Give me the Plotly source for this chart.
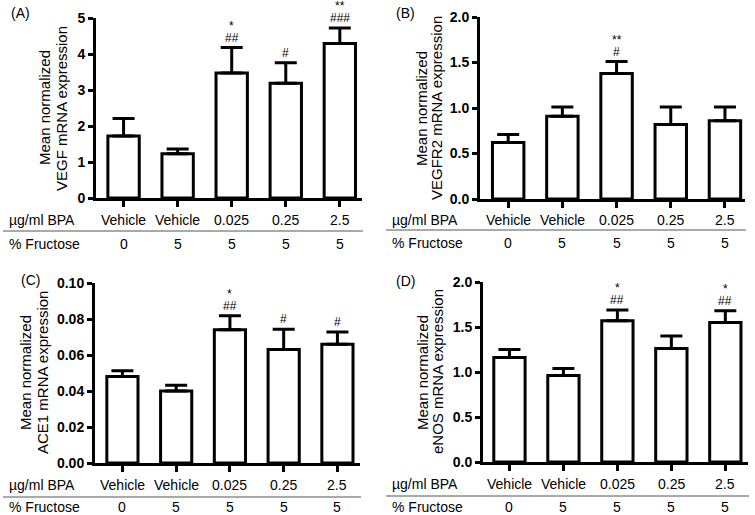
import plotly.graph_objects as go

bpa_labels = ["Vehicle", "Vehicle", "0.025", "0.25", "2.5"]
fructose_labels = ["0", "5", "5", "5", "5"]

vegf_mean = [1.72, 1.23, 3.47, 3.19, 4.29]
vegf_err = [0.49, 0.13, 0.71, 0.57, 0.43]
vegf_sig = [[], [], ["##", "*"], ["#"], ["###", "**"]]

vegfr2_mean = [0.62, 0.91, 1.38, 0.82, 0.86]
vegfr2_err = [0.09, 0.10, 0.13, 0.19, 0.15]
vegfr2_sig = [[], [], ["#", "**"], [], []]

ace1_mean = [0.048, 0.040, 0.074, 0.063, 0.066]
ace1_err = [0.0033, 0.0032, 0.0078, 0.0113, 0.0068]
ace1_sig = [[], [], ["##", "*"], ["#"], ["#"]]

enos_mean = [1.16, 0.96, 1.57, 1.26, 1.55]
enos_err = [0.09, 0.08, 0.12, 0.14, 0.13]
enos_sig = [[], [], ["##", "*"], [], ["##", "*"]]

FONT = "Liberation Sans, Arial, sans-serif"
W, H = 755, 515


def px(x):
    return x / W


def py(y):
    return 1 - y / H


# pixel layout of each panel (as measured in the reference picture)
panels = [
    dict(mean=vegf_mean, err=vegf_err, sig=vegf_sig, letter="(A)", gene="VEGF",
         l=96, r=362, t=18, b=198, x0=-0.51, x1=4.41, ymax=5, dtick=1, fmt="d",
         title_x=(45, 62), letter_xy=(20, 13), row_left=7, row_y=(220, 231, 244)),
    dict(mean=vegfr2_mean, err=vegfr2_err, sig=vegfr2_sig, letter="(B)", gene="VEGFR2",
         l=480, r=745, t=17, b=199, x0=-0.52, x1=4.37, ymax=2.0, dtick=0.5, fmt=".1f",
         title_x=(422, 437), letter_xy=(405, 13), row_left=390, row_y=(220, 230, 243)),
    dict(mean=ace1_mean, err=ace1_err, sig=ace1_sig, letter="(C)", gene="ACE1",
         l=95, r=360, t=283, b=463, x0=-0.51, x1=4.42, ymax=0.10, dtick=0.02, fmt=".2f",
         title_x=(25, 42), letter_xy=(31, 280), row_left=7, row_y=(485, 497, 507)),
    dict(mean=enos_mean, err=enos_err, sig=enos_sig, letter="(D)", gene="eNOS",
         l=483, r=748, t=282, b=462, x0=-0.49, x1=4.42, ymax=2.0, dtick=0.5, fmt=".1f",
         title_x=(422, 437), letter_xy=(405, 281), row_left=390, row_y=(484, 496, 507)),
]

fig = go.Figure()
annotations = []
shapes = []
xs = list(range(5))
txt_font = dict(family=FONT, size=14, color="black")

for i, p in enumerate(panels):
    n = "" if i == 0 else str(i + 1)
    fig.add_trace(go.Bar(
        x=xs, y=p["mean"], width=0.58,
        marker=dict(color="white", line=dict(color="black", width=3)),
        error_y=dict(type="data", symmetric=False, array=p["err"],
                     arrayminus=[0] * 5, color="black", thickness=3, width=11),
        xaxis="x" + n, yaxis="y" + n, showlegend=False,
    ))
    fig.update_layout(**{
        "xaxis" + n: dict(domain=[px(p["l"]), px(p["r"])], range=[p["x0"], p["x1"]],
                          anchor="y" + n, tickvals=xs, showticklabels=False,
                          ticks="outside", ticklen=6, tickwidth=2.5, tickcolor="black",
                          showline=True, linecolor="black", linewidth=3,
                          showgrid=False, zeroline=False, automargin=False),
        "yaxis" + n: dict(domain=[py(p["b"]), py(p["t"])], range=[0, p["ymax"]],
                          anchor="x" + n, dtick=p["dtick"], tickformat=p["fmt"],
                          ticks="outside", ticklen=5, tickwidth=2.5, tickcolor="black",
                          showline=True, linecolor="black", linewidth=3,
                          showgrid=False, zeroline=False, automargin=False,
                          tickfont=dict(family=FONT, size=14, color="black", weight="bold")),
    })
    ymid = py((p["t"] + p["b"]) / 2)
    for txt, tx in zip(["Mean normalized", p["gene"] + " mRNA expression"], p["title_x"]):
        annotations.append(dict(text=txt, x=px(tx), y=ymid, xref="paper", yref="paper",
                                xanchor="center", yanchor="middle",
                                textangle=-90, showarrow=False,
                                font=dict(family=FONT, size=15, color="black")))
    annotations.append(dict(text=p["letter"], x=px(p["letter_xy"][0]),
                            y=py(p["letter_xy"][1]), xref="paper", yref="paper",
                            xanchor="center", yanchor="middle",
                            showarrow=False, font=txt_font))
    for j in xs:
        for k, mark in enumerate(p["sig"][j]):
            annotations.append(dict(text=mark, x=j, y=p["mean"][j] + p["err"][j],
                                    xref="x" + n, yref="y" + n,
                                    xanchor="center", yanchor="bottom",
                                    showarrow=False, yshift=1 + 12 * k,
                                    font=dict(family=FONT, size=12, color="black")))
    r_bpa, r_line, r_fru = p["row_y"]
    annotations.append(dict(text="µg/ml BPA", x=px(p["row_left"]), y=py(r_bpa),
                            xref="paper", yref="paper", xanchor="left", yanchor="middle",
                            showarrow=False, font=txt_font))
    annotations.append(dict(text="% Fructose", x=px(p["row_left"]), y=py(r_fru),
                            xref="paper", yref="paper", xanchor="left", yanchor="middle",
                            showarrow=False, font=txt_font))
    for j in xs:
        annotations.append(dict(text=bpa_labels[j], x=j, y=py(r_bpa),
                                xref="x" + n, yref="paper", xanchor="center",
                                yanchor="middle", showarrow=False, font=txt_font))
        annotations.append(dict(text=fructose_labels[j], x=j, y=py(r_fru),
                                xref="x" + n, yref="paper", xanchor="center",
                                yanchor="middle", showarrow=False, font=txt_font))
    shapes.append(dict(type="line", xref="paper", yref="paper",
                       x0=px(p["row_left"] - 4), x1=px(p["r"] + 1),
                       y0=py(r_line), y1=py(r_line),
                       line=dict(color="#555555", width=1)))

fig.update_layout(width=W, height=H, margin=dict(l=0, r=0, t=0, b=0, pad=0),
                  template="none",
                  paper_bgcolor="white", plot_bgcolor="white",
                  annotations=annotations, shapes=shapes,
                  font=dict(family=FONT, color="black"))

# drop the default 8px page margin so the figure fills the window exactly
fig.write_html("out.html", config={"displayModeBar": False},
               post_script="document.body.style.margin='0';")
